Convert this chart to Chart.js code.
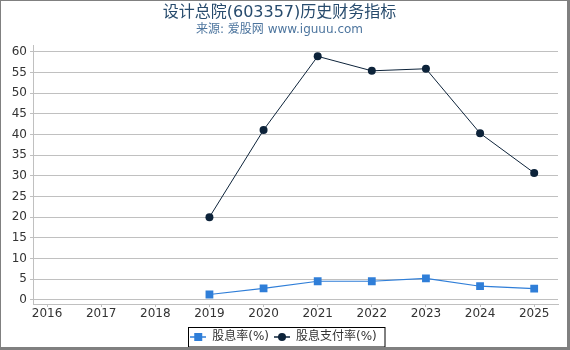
<!DOCTYPE html>
<html>
<head>
<meta charset="utf-8">
<script src="https://cdn.jsdelivr.net/npm/chart.js@4.4.0/dist/chart.umd.min.js"></script>
<style>
  html, body { margin: 0; padding: 0; background: #fff; }
  .frame {
    width: 570px; height: 350px; box-sizing: border-box;
    border: 1px solid #808080; border-right-width: 3px; border-bottom-width: 3px;
  }
  .frame canvas { display: block; }
</style>
</head>
<body>
<div class="frame"><canvas id="chart" width="566" height="346"></canvas></div>
<script>
const years = [2016, 2017, 2018, 2019, 2020, 2021, 2022, 2023, 2024, 2025];
const dividendYield = [null, null, null, 1.3, 2.8, 4.5, 4.5, 5.2, 3.3, 2.7];
const payoutRatio = [null, null, null, 20.0, 41.1, 58.9, 55.4, 55.9, 40.3, 30.7];
const yTicks = [0, 5, 10, 15, 20, 25, 30, 35, 40, 45, 50, 55, 60];

const FONT = "'DejaVu Sans', 'Noto Sans CJK SC', sans-serif";
const BLUE = '#2f7ed8';
const NAVY = '#0d233a';

// legend icon: short line with the marker in the middle
function legendIcon(color, shape) {
  const c = document.createElement('canvas');
  c.width = 16;
  c.height = 10;
  const g = c.getContext('2d');
  g.strokeStyle = color;
  g.lineWidth = 1.5;
  g.beginPath();
  g.moveTo(0, 5);
  g.lineTo(16, 5);
  g.stroke();
  g.fillStyle = color;
  if (shape === 'rect') {
    g.fillRect(4, 1, 8, 8);
  } else {
    g.beginPath();
    g.arc(8, 5, 4, 0, Math.PI * 2);
    g.fill();
  }
  return c;
}

const toPoints = vals => years.map((y, i) => ({ x: y, y: vals[i] }));

// frame round the legend, and a small nudge to centre it like the original
const legendBox = {
  id: 'legendBox',
  afterLayout(chart) {
    chart.legend.left += 4;
    chart.legend.right += 4;
  },
  afterDraw(chart) {
    const boxes = chart.legend.legendHitBoxes;
    if (!boxes || !boxes.length) return;
    let l = Infinity, t = Infinity, r = -Infinity, b = -Infinity;
    boxes.forEach(h => {
      l = Math.min(l, h.left);
      t = Math.min(t, h.top);
      r = Math.max(r, h.left + h.width);
      b = Math.max(b, h.top + h.height);
    });
    const ctx = chart.ctx;
    ctx.save();
    ctx.strokeStyle = '#000';
    ctx.lineWidth = 1;
    const x0 = Math.round(l - 2) + 0.5;
    const y0 = Math.round(t - 4) + 0.5;
    ctx.strokeRect(x0, y0, Math.round(r + 8) - x0, Math.round(b + 4) - y0);
    ctx.restore();
  }
};

new Chart(document.getElementById('chart'), {
  type: 'line',
  data: {
    datasets: [{
      label: '股息率(%)',
      data: toPoints(dividendYield),
      borderColor: BLUE,
      backgroundColor: BLUE,
      borderWidth: 1.2,
      pointStyle: 'rect',
      pointRadius: 5.5,
      pointBorderWidth: 0,
      pointHoverRadius: 5.5
    }, {
      label: '股息支付率(%)',
      data: toPoints(payoutRatio),
      borderColor: NAVY,
      backgroundColor: NAVY,
      borderWidth: 1,
      pointStyle: 'circle',
      pointRadius: 4,
      pointBorderWidth: 0,
      pointHoverRadius: 4
    }]
  },
  options: {
    responsive: false,
    animation: false,
    devicePixelRatio: 1,
    layout: {
      padding: { left: 0, right: 9, top: 0, bottom: 0 }
    },
    plugins: {
      title: {
        display: true,
        text: '设计总院(603357)历史财务指标',
        color: '#274b6d',
        font: { family: FONT, size: 16, weight: 'normal' },
        padding: { top: 2, bottom: 0 }
      },
      subtitle: {
        display: true,
        text: '来源: 爱股网 www.iguuu.com',
        color: '#4d759e',
        font: { family: FONT, size: 12, weight: 'normal' },
        padding: { top: 0, bottom: 9 }
      },
      legend: {
        position: 'bottom',
        maxHeight: 21,
        labels: {
          usePointStyle: true,
          pointStyleWidth: 16,
          color: '#333',
          font: { family: FONT, size: 12 },
          padding: 5,
          generateLabels(chart) {
            return chart.data.datasets.map((ds, i) => ({
              text: ds.label,
              datasetIndex: i,
              fontColor: '#333',
              pointStyle: legendIcon(ds.borderColor, ds.pointStyle),
              lineWidth: 0,
              strokeStyle: 'transparent',
              fillStyle: 'transparent'
            }));
          }
        }
      },
      tooltip: { enabled: false }
    },
    scales: {
      x: {
        type: 'linear',
        min: 2015.74,
        max: 2025.44,
        afterBuildTicks(scale) {
          scale.ticks = years.map(v => ({ value: v }));
        },
        afterFit(scale) {
          scale.height = 22;
        },
        ticks: {
          color: '#333',
          font: { family: FONT, size: 12 },
          padding: 0,
          maxRotation: 0,
          callback: v => String(v)
        },
        grid: {
          drawOnChartArea: false,
          color: '#c0c0c0',
          tickLength: 3
        },
        border: { color: '#c0c0c0' }
      },
      y: {
        min: -1,
        max: 61.5,
        afterBuildTicks(scale) {
          scale.ticks = yTicks.map(v => ({ value: v }));
        },
        afterFit(scale) {
          scale.width = 32;
        },
        ticks: {
          color: '#333',
          font: { family: FONT, size: 12 },
          padding: 3
        },
        grid: {
          color: '#c0c0c0',
          tickLength: 3
        },
        border: { color: '#c0c0c0' }
      }
    }
  },
  plugins: [legendBox]
});
</script>
</body>
</html>
